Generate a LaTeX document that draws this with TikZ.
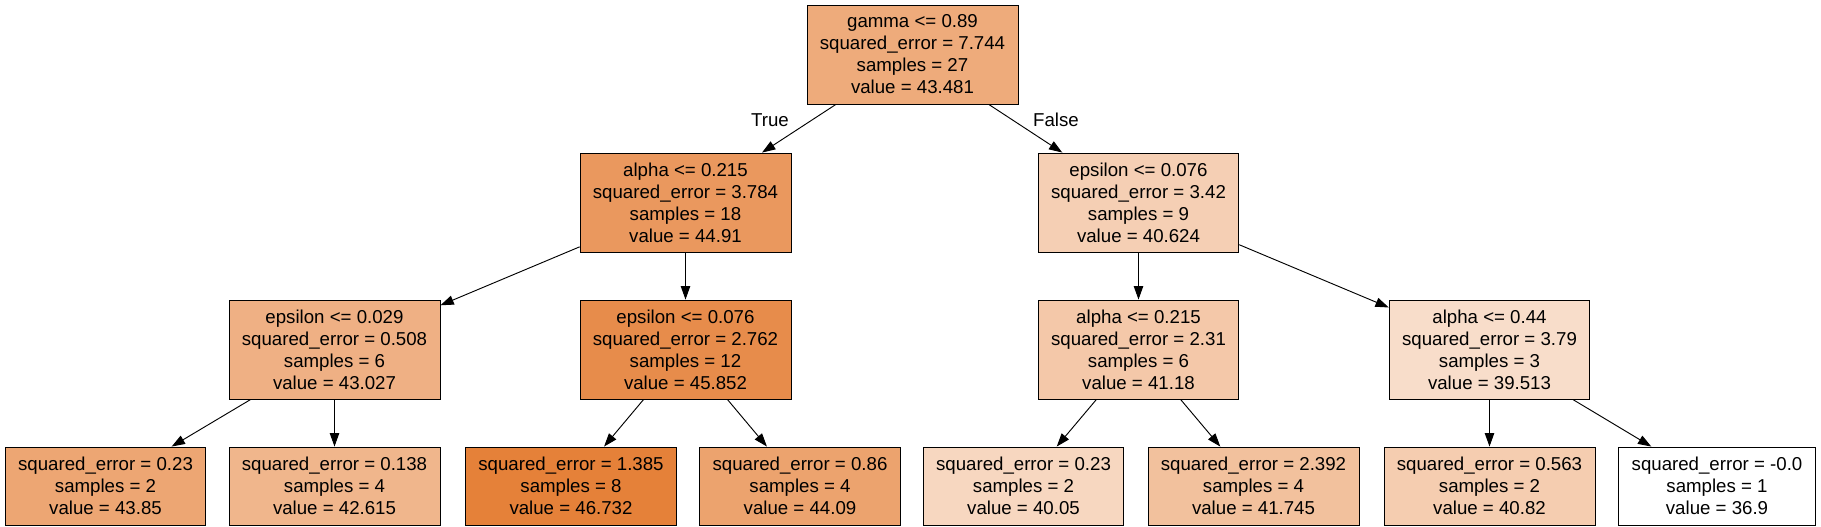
\documentclass[tikz,border=0pt]{standalone}
\usepackage{fontspec}
\setmainfont{Liberation Sans}
\usetikzlibrary{arrows.meta}
\definecolor{treeorange}{RGB}{229,129,57}
\tikzset{
  splitbox/.style={draw=black, line width=0.65pt, fill=treeorange!#1!white,
    align=center, inner xsep=9.65pt, inner ysep=0pt, minimum height=74.25pt,
    font=\fontsize{14}{16.5}\selectfont},
  leafbox/.style={splitbox=#1, minimum height=58.5pt},
  branch/.style={-{Triangle[length=10pt,width=7pt]}, line width=0.7pt},
  branchlabel/.style={font=\fontsize{14}{16.5}\selectfont}
}
\begin{document}
\begin{tikzpicture}[x=0.75pt,y=-0.75pt]
  \useasboundingbox (0,0) rectangle (1821,527);

  % Root
  \node[splitbox=66.9] (root) at (912.5,54.5) {gamma <= 0.89\\squared\_error = 7.744\\samples = 27\\value = 43.481};

  % First split
  \node[splitbox=81.5] (alphaA) at (685.5,202.5) {alpha <= 0.215\\squared\_error = 3.784\\samples = 18\\value = 44.91};
  \node[splitbox=37.9] (epsA) at (1138.5,202.5) {epsilon <= 0.076\\squared\_error = 3.42\\samples = 9\\value = 40.624};

  % Second split
  \node[splitbox=62.3] (epsB) at (334.5,349.5) {epsilon <= 0.029\\squared\_error = 0.508\\samples = 6\\value = 43.027};
  \node[splitbox=91.0] (epsC) at (685.5,349.5) {epsilon <= 0.076\\squared\_error = 2.762\\samples = 12\\value = 45.852};
  \node[splitbox=43.5] (alphaB) at (1138.5,349.5) {alpha <= 0.215\\squared\_error = 2.31\\samples = 6\\value = 41.18};
  \node[splitbox=26.6] (alphaC) at (1489.5,349.5) {alpha <= 0.44\\squared\_error = 3.79\\samples = 3\\value = 39.513};

  % Leaves
  \node[leafbox=70.7] (leafA) at (105.5,486) {squared\_error = 0.23\\samples = 2\\value = 43.85};
  \node[leafbox=58.1] (leafB) at (334.5,486) {squared\_error = 0.138\\samples = 4\\value = 42.615};
  \node[leafbox=100] (leafC) at (571,486) {squared\_error = 1.385\\samples = 8\\value = 46.732};
  \node[leafbox=73.1] (leafD) at (800,486) {squared\_error = 0.86\\samples = 4\\value = 44.09};
  \node[leafbox=32.0] (leafE) at (1023.5,486) {squared\_error = 0.23\\samples = 2\\value = 40.05};
  \node[leafbox=49.3] (leafF) at (1253.5,486) {squared\_error = 2.392\\samples = 4\\value = 41.745};
  \node[leafbox=39.9] (leafG) at (1489.5,486) {squared\_error = 0.563\\samples = 2\\value = 40.82};
  \node[leafbox=0] (leafH) at (1717,486) {squared\_error = -0.0\\samples = 1\\value = 36.9};

  % Branches
  \draw[branch] (root) -- (alphaA);
  \draw[branch] (root) -- (epsA);
  \node[branchlabel] (truelbl) at (770,120) {True};
  \node[branchlabel] (falselbl) at (1056,120) {False};

  \draw[branch] (alphaA) -- (epsB);
  \draw[branch] (alphaA) -- (epsC);
  \draw[branch] (epsA) -- (alphaB);
  \draw[branch] (epsA) -- (alphaC);

  \draw[branch] (epsB) -- (leafA);
  \draw[branch] (epsB) -- (leafB);
  \draw[branch] (epsC) -- (leafC);
  \draw[branch] (epsC) -- (leafD);
  \draw[branch] (alphaB) -- (leafE);
  \draw[branch] (alphaB) -- (leafF);
  \draw[branch] (alphaC) -- (leafG);
  \draw[branch] (alphaC) -- (leafH);
\end{tikzpicture}
\end{document}
